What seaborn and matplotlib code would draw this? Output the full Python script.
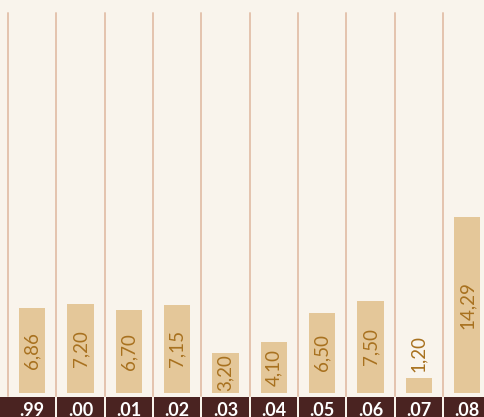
import matplotlib
matplotlib.use("Agg")
import matplotlib.pyplot as plt
import seaborn as sns
import pandas as pd
from matplotlib.transforms import blended_transform_factory
from matplotlib.patches import Rectangle

categories = [".99", ".00", ".01", ".02", ".03", ".04", ".05", ".06", ".07", ".08"]
values = [6.86, 7.20, 6.70, 7.15, 3.20, 4.10, 6.50, 7.50, 1.20, 14.29]
value_labels = ["6,86", "7,20", "6,70", "7,15", "3,20", "4,10", "6,50", "7,50", "1,20", "14,29"]

BG = "#F9F4EC"
BAR = "#E4C799"
LABEL = "#A8711F"
DARK = "#4A2321"
LINE = "#E4C3AE"

sns.set_theme(style="white")
plt.rcParams["font.family"] = ["Lato", "DejaVu Sans"]

W, H = 484, 417
fig = plt.figure(figsize=(W / 100, H / 100), dpi=100, facecolor=BG)
ax_bottom_px = 392.5
ax_top_px = 13
px_per_unit = 12.25
ax = fig.add_axes([0, (H - ax_bottom_px) / H, 1, (ax_bottom_px - ax_top_px) / H])
ax.set_facecolor(BG)

df = pd.DataFrame({"cat": categories, "val": values})
sns.barplot(data=df, x="cat", y="val", order=categories, color=BAR,
            saturation=1, width=0.55, ax=ax, edgecolor="none")

col_px = 48.33
first_center_px = 32.17
x0 = -first_center_px / col_px
x1 = (W - first_center_px) / col_px
ax.set_xlim(x0, x1)
ax.set_ylim(0, (ax_bottom_px - ax_top_px) / px_per_unit)
ax.axis("off")

# column separators
bt = blended_transform_factory(ax.transData, ax.transAxes)
ext = 3.5 / (ax_bottom_px - ax_top_px)
for b in range(len(categories) + 1):
    ax.plot([b - 0.5, b - 0.5], [-ext, 1], transform=bt, color=LINE,
            lw=1.4, clip_on=False, zorder=0)

# value labels
for i, (v, lab) in enumerate(zip(values, value_labels)):
    if v * px_per_unit > 30:
        ax.text(i, v / 2, lab, rotation=90, ha="center", va="center",
                color=LABEL, fontsize=13.5)
    else:
        ax.text(i, v + 6 / px_per_unit, lab, rotation=90, ha="center",
                va="bottom", color=LABEL, fontsize=13.5)

# category boxes
ft = blended_transform_factory(ax.transData, fig.transFigure)
box_top = (H - 397) / H
g = 1 / col_px
for i, cat in enumerate(categories):
    left = i - 0.5 + g if i > 0 else x0 - 0.1
    right = i + 0.5 - g
    if i == len(categories) - 1:
        right = x1 + 0.1
    ax.add_patch(Rectangle((left, 0), right - left, box_top, transform=ft,
                           facecolor=DARK, edgecolor="none", clip_on=False))
    ax.text(i, 1.5 / H, cat, transform=ft, ha="center", va="baseline",
            color="white", fontsize=13, fontweight="bold")

fig.savefig("out.png", dpi=100, facecolor=BG)
